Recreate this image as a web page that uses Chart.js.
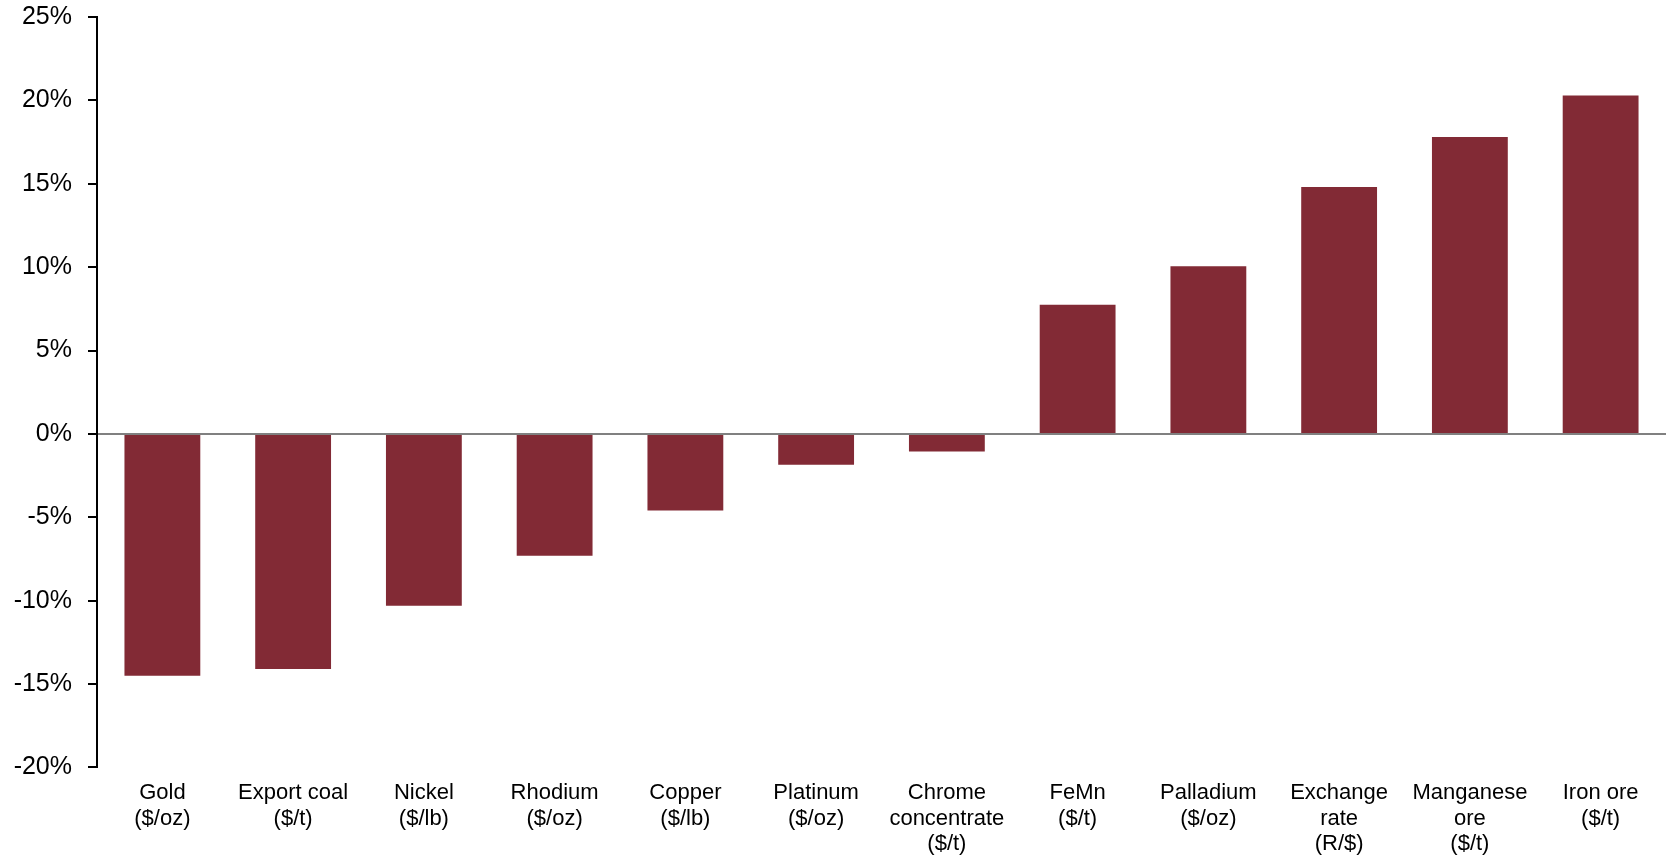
<!DOCTYPE html>
<html>
<head>
<meta charset="utf-8">
<script src="https://cdn.jsdelivr.net/npm/chart.js@4.4.1/dist/chart.umd.min.js"></script>
<style>
    html, body { margin: 0; padding: 0; background: #fff; }
    #wrap { width: 1667px; height: 858px; position: relative; }
</style>
</head>
<body>
<div id="wrap"><canvas id="priceChart"></canvas></div>
<script>
const categories = [
    ['Gold', '($/oz)'],
    ['Export coal', '($/t)'],
    ['Nickel', '($/lb)'],
    ['Rhodium', '($/oz)'],
    ['Copper', '($/lb)'],
    ['Platinum', '($/oz)'],
    ['Chrome', 'concentrate', '($/t)'],
    ['FeMn', '($/t)'],
    ['Palladium', '($/oz)'],
    ['Exchange', 'rate', '(R/$)'],
    ['Manganese', 'ore', '($/t)'],
    ['Iron ore', '($/t)']
];
const changes = [-14.5, -14.1, -10.3, -7.3, -4.6, -1.85, -1.05, 7.75, 10.05, 14.8, 17.8, 20.3];
const yTicks = [-20, -15, -10, -5, 0, 5, 10, 15, 20, 25];

const barColor = '#822A35';

Chart.defaults.font.family = '"Liberation Sans", Arial, sans-serif';
Chart.defaults.color = '#000';

const ctx = document.getElementById('priceChart').getContext('2d');
new Chart(ctx, {
    type: 'bar',
    data: {
        labels: categories,
        datasets: [{
            data: changes,
            backgroundColor: barColor,
            borderWidth: 0,
            barPercentage: 0.58,
            categoryPercentage: 1
        }]
    },
    options: {
        responsive: true,
        maintainAspectRatio: false,
        animation: false,
        layout: { padding: { top: 0, right: 1, bottom: -4, left: 0 } },
        plugins: { legend: { display: false }, tooltip: { enabled: false } },
        scales: {
            x: {
                grid: { display: false },
                border: { display: false },
                ticks: {
                    maxRotation: 0,
                    autoSkip: false,
                    padding: 5,
                    font: { size: 22, lineHeight: 1.16 }
                }
            },
            y: {
                min: -20,
                max: 25,
                z: 1,
                afterBuildTicks: scale => {
                    scale.ticks = yTicks.map(v => ({ value: v }));
                },
                afterFit: scale => {
                    scale.width = 97;
                    scale.paddingTop = 17;
                    scale.paddingBottom = 0;
                },
                grid: {
                    color: c => (c.tick && c.tick.value === 0) ? '#808080' : 'rgba(0,0,0,0)',
                    lineWidth: 2,
                    tickColor: '#000',
                    tickWidth: 2,
                    tickLength: 9
                },
                border: { display: true, color: '#000', width: 2 },
                ticks: {
                    padding: 16,
                    font: { size: 25 },
                    callback: v => v + '%'
                }
            }
        }
    }
});
</script>
</body>
</html>
